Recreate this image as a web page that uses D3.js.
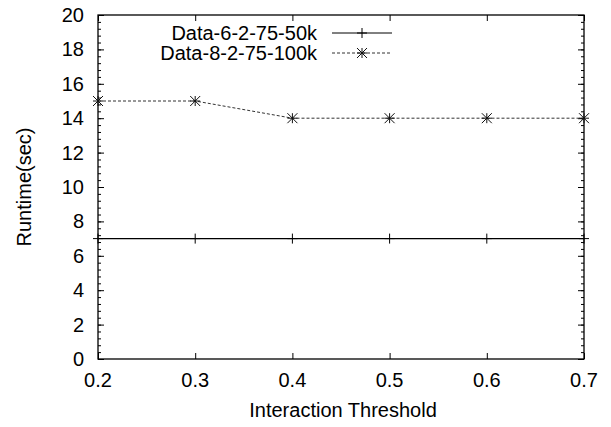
<!DOCTYPE html>
<html>
<head>
<meta charset="utf-8">
<script src="https://cdn.jsdelivr.net/npm/d3@7"></script>
<style>
  body { margin: 0; background: #fff; }
  text { font-family: "Liberation Sans", Arial, sans-serif; fill: #000; }
</style>
</head>
<body>
<svg id="chart"></svg>
<script>
// thresholds on the x axis
var thresholds = [0.2, 0.3, 0.4, 0.5, 0.6, 0.7];

// runtime per dataset
var data50k = [7, 7, 7, 7, 7, 7];
var data100k = [15, 15, 14, 14, 14, 14];

var seriesNames = ['Data-6-2-75-50k', 'Data-8-2-75-100k'];

var xTicks = [0.2, 0.3, 0.4, 0.5, 0.6, 0.7];
var yTicks = [0, 2, 4, 6, 8, 10, 12, 14, 16, 18, 20];

var W = 611, H = 427;
var m = {left: 98, right: 584, top: 15, bottom: 359};

var svg = d3.select('#chart').attr('width', W).attr('height', H);

var x = d3.scaleLinear().domain([0.2, 0.7]).range([m.left, m.right]);
var y = d3.scaleLinear().domain([0, 20]).range([m.bottom, m.top]);

// minor y ticks every 0.4
var yMinor = d3.range(0, 20.001, 0.4).map(function (v) { return +v.toFixed(1); });

// axes - gnuplot style, ticks pointing inward
function tickAxis(axis) {
  return function (g) {
    g.call(axis);
    g.select('.domain').remove();
    g.selectAll('line').attr('stroke', '#000');
  };
}

svg.append('g')
    .attr('transform', 'translate(0,' + m.bottom + ')')
    .call(tickAxis(d3.axisTop(x).tickValues(xTicks).tickSize(6).tickFormat('')));
svg.append('g')
    .attr('transform', 'translate(0,' + m.top + ')')
    .call(tickAxis(d3.axisBottom(x).tickValues(xTicks).tickSize(6).tickFormat('')));
svg.append('g')
    .attr('transform', 'translate(' + m.left + ',0)')
    .call(tickAxis(d3.axisRight(y).tickValues(yMinor).tickSize(3).tickFormat('')));
svg.append('g')
    .attr('transform', 'translate(' + m.left + ',0)')
    .call(tickAxis(d3.axisRight(y).tickValues(yTicks).tickSize(6).tickFormat('')));
svg.append('g')
    .attr('transform', 'translate(' + m.right + ',0)')
    .call(tickAxis(d3.axisLeft(y).tickValues(yMinor).tickSize(3).tickFormat('')));
svg.append('g')
    .attr('transform', 'translate(' + m.right + ',0)')
    .call(tickAxis(d3.axisLeft(y).tickValues(yTicks).tickSize(6).tickFormat('')));

// frame
svg.append('rect')
    .attr('x', m.left).attr('y', m.top)
    .attr('width', m.right - m.left).attr('height', m.bottom - m.top)
    .attr('fill', 'none').attr('stroke', '#000').attr('stroke-width', 1.3);

// tick labels
svg.selectAll('.xl').data(xTicks).enter().append('text')
    .attr('x', function (d) { return x(d); })
    .attr('y', 387)
    .attr('text-anchor', 'middle')
    .style('font-size', '20px')
    .text(function (d) { return d.toFixed(1); });

svg.selectAll('.yl').data(yTicks).enter().append('text')
    .attr('x', 84)
    .attr('y', function (d) { return y(d) + 7; })
    .attr('text-anchor', 'end')
    .style('font-size', '20px')
    .text(function (d) { return d; });

// axis titles
svg.append('text')
    .attr('x', (m.left + m.right) / 2 + 2)
    .attr('y', 417)
    .attr('text-anchor', 'middle')
    .style('font-size', '20px')
    .text('Interaction Threshold');

svg.append('text')
    .attr('transform', 'translate(31,' + ((m.top + m.bottom) / 2) + ') rotate(-90)')
    .attr('text-anchor', 'middle')
    .style('font-size', '20px')
    .text('Runtime(sec)');

// markers
function plus(g, cx, cy) {
  g.append('path')
      .attr('d', 'M' + (cx - 5) + ',' + cy + 'H' + (cx + 5) + 'M' + cx + ',' + (cy - 5) + 'V' + (cy + 5))
      .attr('stroke', '#000').attr('fill', 'none');
}
function star(g, cx, cy) {
  g.append('path')
      .attr('d', 'M' + (cx - 5) + ',' + cy + 'H' + (cx + 5) +
                 'M' + cx + ',' + (cy - 5) + 'V' + (cy + 5) +
                 'M' + (cx - 5) + ',' + (cy - 5) + 'L' + (cx + 5) + ',' + (cy + 5) +
                 'M' + (cx - 5) + ',' + (cy + 5) + 'L' + (cx + 5) + ',' + (cy - 5))
      .attr('stroke', '#111').attr('fill', 'none');
}

var line = d3.line()
    .x(function (d, i) { return x(thresholds[i]); })
    .y(function (d) { return y(d); });

var gData = svg.append('g');

gData.append('path')
    .datum(data50k)
    .attr('d', line)
    .attr('fill', 'none')
    .attr('stroke', '#000')
    .attr('stroke-width', 1.2);

gData.append('path')
    .datum(data100k)
    .attr('d', line)
    .attr('fill', 'none')
    .attr('stroke', '#333')
    .attr('stroke-dasharray', '3,2');

data50k.forEach(function (d, i) { plus(gData, x(thresholds[i]), y(d)); });
data100k.forEach(function (d, i) { star(gData, x(thresholds[i]), y(d)); });

// legend
var legY = [33, 53];
seriesNames.forEach(function (name, i) {
  svg.append('text')
      .attr('x', 317)
      .attr('y', legY[i] + 7)
      .attr('text-anchor', 'end')
      .style('font-size', '20px')
      .text(name);
  var l = svg.append('line')
      .attr('x1', 332).attr('x2', 392)
      .attr('y1', legY[i]).attr('y2', legY[i])
      .attr('stroke', i === 0 ? '#000' : '#333');
  if (i === 1) l.attr('stroke-dasharray', '3,2');
  if (i === 0) plus(svg, 362, legY[i]); else star(svg, 362, legY[i]);
});
</script>
</body>
</html>
